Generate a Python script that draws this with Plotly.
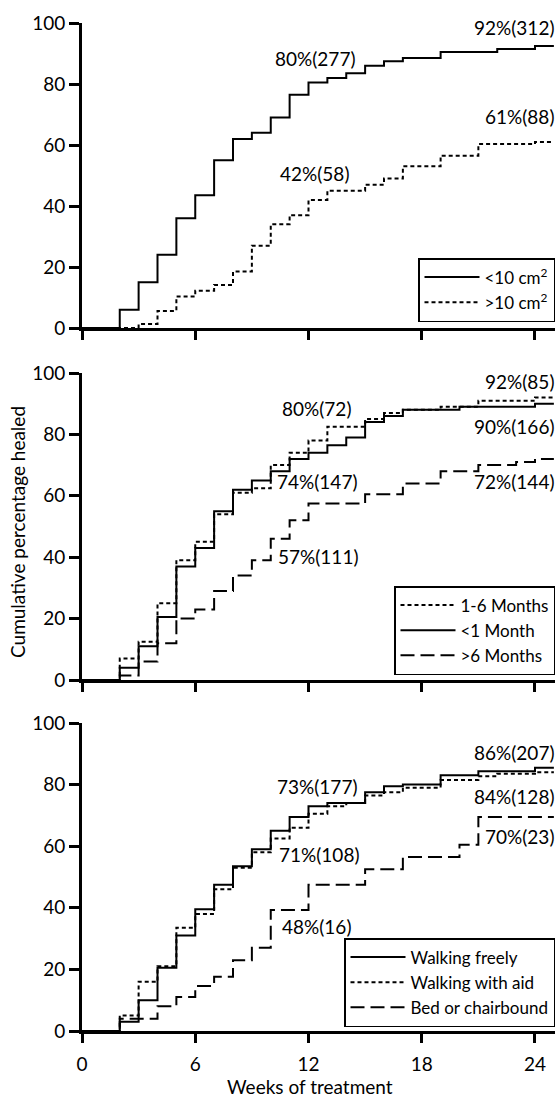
import plotly.graph_objects as go

weeks = [0, 2, 3, 4, 5, 6, 7, 8, 9, 10, 11, 12, 13, 14, 15, 16, 17, 18, 19, 20, 21, 22, 23, 24, 25]

# Panel 1: ulcer area
small_area = [0, 6, 15, 24, 36, 43.5, 55, 62, 64, 69, 76.5, 80.5, 82, 83.5, 86, 87.5, 88.5, 88.5, 90.5, 90.5, 90.5, 91.5, 91.5, 92.5, 92.5]
large_area = [0, 0, 1.3, 5.6, 10.3, 12.2, 14.1, 18.5, 27, 34, 37, 42, 45, 45, 47, 49, 53, 53, 56.5, 56.5, 60.3, 60.3, 60.3, 61, 61]

# Panel 2: ulcer duration
dur_1_6 = [0, 7, 12.5, 25, 39, 45, 54, 61, 62.5, 70, 74, 78, 82.5, 82.5, 85, 87, 88, 88, 89, 89, 91, 91, 91, 92, 92]
dur_lt1 = [0, 4, 11, 20.5, 37, 43, 55, 62, 65, 68, 72, 74, 76.5, 79, 84, 86, 88, 88, 88, 89, 89, 89, 89, 90, 90]
dur_gt6 = [0, 1.5, 6, 12, 20, 23, 29, 34, 39, 46, 52, 57.5, 57.5, 57.5, 60.5, 60.5, 64, 64, 68, 68, 70, 70, 71, 72, 72]

# Panel 3: mobility
walk_free = [0, 3, 10, 20.5, 31, 39.5, 47.5, 53.5, 59, 65, 69.5, 73, 74, 74, 77.5, 79.5, 80, 80, 83, 83, 84.3, 84.3, 84.3, 85.5, 85.5]
walk_aid = [0, 5, 16, 21, 33.5, 38, 46, 53, 58, 62.5, 66, 70.5, 73, 74, 76.5, 77.5, 79, 79, 81.5, 81.5, 82.7, 83.5, 83.5, 84, 84]
bed_chair = [0, 4, 4, 8, 11, 14.6, 17.6, 23, 27, 39.3, 39.3, 47.5, 47.5, 47.5, 52.5, 52.5, 56.5, 56.5, 56.5, 60.5, 69.5, 69.5, 69.5, 69.5, 69.5]

x_ticks = [0, 6, 12, 18, 24]
y_ticks = [0, 20, 40, 60, 80, 100]

FONT = "Lato"
SHORT = "4px,3px"
LONG = "14px,6px"

fig = go.Figure()

def add(y, name, dash, xa, ya, lg):
    fig.add_trace(go.Scatter(
        x=weeks, y=y, name=name, mode="lines", line_shape="hv",
        line=dict(color="black", width=2, dash=dash),
        xaxis=xa, yaxis=ya, legend=lg, cliponaxis=False))

add(small_area, "<10 cm<sup>2</sup>", "solid", "x", "y", "legend")
add(large_area, ">10 cm<sup>2</sup>", SHORT, "x", "y", "legend")
add(dur_1_6, "1-6 Months", SHORT, "x2", "y2", "legend2")
add(dur_lt1, "<1 Month", "solid", "x2", "y2", "legend2")
add(dur_gt6, ">6 Months", LONG, "x2", "y2", "legend2")
add(walk_free, "Walking freely", "solid", "x3", "y3", "legend3")
add(walk_aid, "Walking with aid", SHORT, "x3", "y3", "legend3")
add(bed_chair, "Bed or chairbound", LONG, "x3", "y3", "legend3")

H = 1099
top, bot = 23, 1031
ph = bot - top
PW = 473
def dom(p_top, p_bot):
    return [(bot - p_bot) / ph, (bot - p_top) / ph]

xcommon = dict(range=[0, 25.06], showline=True, linecolor="black", linewidth=3,
               ticks="outside", ticklen=9, tickwidth=3, tickcolor="black",
               tickvals=x_ticks, showgrid=False, zeroline=False,
               tickfont=dict(family=FONT, size=19, color="black"), ticklabelstandoff=5)
ycommon = dict(range=[0, 100], showline=True, linecolor="black", linewidth=3,
               ticks="outside", ticklen=10, tickwidth=3, tickcolor="black",
               tickvals=y_ticks, showgrid=False, zeroline=False,
               tickfont=dict(family=FONT, size=19, color="black"))

legcommon = dict(bgcolor="white", bordercolor="black", borderwidth=1.5,
                 font=dict(family=FONT, size=17, color="black"),
                 xanchor="right", x=1.0, yanchor="bottom", tracegroupgap=0, itemwidth=55)

fig.update_layout(
    width=558, height=H,
    margin=dict(l=82, r=3, t=top, b=H - bot),
    paper_bgcolor="white", plot_bgcolor="white",
    font=dict(family=FONT, size=18, color="black"),
    xaxis=dict(xcommon, domain=[0, 1], anchor="y", showticklabels=False),
    xaxis2=dict(xcommon, domain=[0, 1], anchor="y2", showticklabels=False),
    xaxis3=dict(xcommon, domain=[0, 1], anchor="y3", showticklabels=True),
    yaxis=dict(ycommon, domain=dom(23, 328), anchor="x"),
    yaxis2=dict(ycommon, domain=dom(373, 680), anchor="x2"),
    yaxis3=dict(ycommon, domain=dom(723, 1031), anchor="x3"),
    legend=dict(legcommon, y=(bot - 322) / ph),
    legend2=dict(legcommon, y=(bot - 675) / ph),
    legend3=dict(legcommon, y=(bot - 1027) / ph),
    showlegend=True,
)

def ann(text, x, y, xa, ya):
    fig.add_annotation(text=text, x=x, y=y, xref=xa, yref=ya, showarrow=False,
                       xanchor="center", yanchor="middle",
                       font=dict(family=FONT, size=19, color="black"))

def ann_r(text, y, ya):
    # right-aligned label at the right edge of the panel
    fig.add_annotation(text=text, x=(556 - 82) / PW, y=y, xref="paper", yref=ya,
                       showarrow=False, xanchor="right", yanchor="middle",
                       font=dict(family=FONT, size=19, color="black"))

ann("80%(277)", 12.34, 88.5, "x", "y")
ann_r("92%(312)", 98.4, "y")
ann("42%(58)", 12.3, 50.5, "x", "y")
ann_r("61%(88)", 69.2, "y")

ann_r("92%(85)", 97.1, "y2")
ann("80%(72)", 12.4, 88.3, "x2", "y2")
ann_r("90%(166)", 82.7, "y2")
ann("74%(147)", 12.45, 64.8, "x2", "y2")
ann_r("72%(144)", 64.5, "y2")
ann("57%(111)", 12.5, 40.1, "x2", "y2")

ann_r("86%(207)", 90.3, "y3")
ann("73%(177)", 12.45, 79.3, "x3", "y3")
ann_r("84%(128)", 76.0, "y3")
ann_r("70%(23)", 63.0, "y3")
ann("71%(108)", 12.56, 57.2, "x3", "y3")
ann("48%(16)", 12.4, 33.8, "x3", "y3")

fig.add_annotation(text="Cumulative percentage healed", xref="paper", yref="paper",
                   x=(17 - 82) / PW, y=(bot - 532) / ph, showarrow=False, textangle=-90,
                   xanchor="center", yanchor="middle",
                   font=dict(family=FONT, size=19, color="black"))
fig.add_annotation(text="Weeks of treatment", xref="paper", yref="paper",
                   x=(310 - 82) / PW, y=(bot - 1086) / ph, showarrow=False,
                   xanchor="center", yanchor="middle",
                   font=dict(family=FONT, size=19, color="black"))

fig.write_html("out.html", config={"displayModeBar": False},
               post_script="document.body.style.margin='0';document.body.style.overflow='hidden';")
